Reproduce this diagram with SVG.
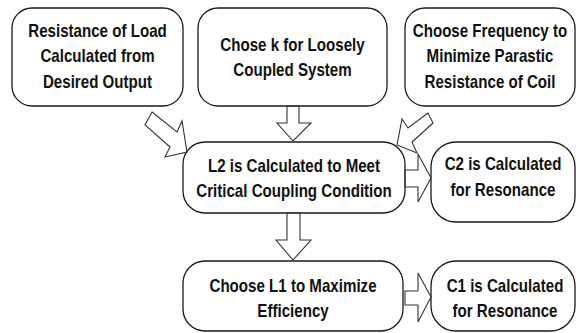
<svg xmlns="http://www.w3.org/2000/svg" width="576" height="333" viewBox="0 0 576 333">
<style>
.box{fill:#fff;stroke:#1a1a1a;stroke-width:1.3}
.arr{fill:none;stroke:#333;stroke-width:1.1;stroke-linejoin:miter}
.t{font-family:"Liberation Sans",Arial,sans-serif;font-weight:bold;font-size:18px;fill:#111;text-anchor:middle}
</style>
<rect width="576" height="333" fill="#fff"/>
<g id="n1"><rect class="box" x="12" y="8" width="171" height="98" rx="20"/>
<g transform="translate(97.5,0) scale(0.84,1)"><text class="t" x="0" y="37">Resistance of Load</text><text class="t" x="0" y="62.5">Calculated from</text><text class="t" x="0" y="88">Desired Output</text></g></g>
<g id="n2"><rect class="box" x="198" y="8" width="189" height="98" rx="20"/>
<g transform="translate(292.5,0) scale(0.84,1)"><text class="t" x="0" y="51">Chose k for Loosely</text><text class="t" x="0" y="76.5">Coupled System</text></g></g>
<g id="n3"><rect class="box" x="405" y="8" width="170" height="98" rx="20"/>
<g transform="translate(490,0) scale(0.84,1)"><text class="t" x="0" y="37">Choose Frequency to</text><text class="t" x="0" y="62.5">Minimize Parastic</text><text class="t" x="0" y="88">Resistance of Coil</text></g></g>
<g id="n4"><rect class="box" x="183" y="142" width="222" height="71" rx="22"/>
<g transform="translate(294,0) scale(0.84,1)"><text class="t" x="0" y="172.5">L2 is Calculated to Meet</text><text class="t" x="0" y="197">Critical Coupling Condition</text></g></g>
<g id="n5"><rect class="box" x="431" y="142" width="144" height="80" rx="25"/>
<g transform="translate(503,0) scale(0.84,1)"><text class="t" x="0" y="170.5">C2 is Calculated</text><text class="t" x="0" y="196">for Resonance</text></g></g>
<g id="n6"><rect class="box" x="183" y="261" width="220" height="70" rx="22"/>
<g transform="translate(293,0) scale(0.84,1)"><text class="t" x="0" y="292">Choose L1 to Maximize</text><text class="t" x="0" y="317">Efficiency</text></g></g>
<g id="n7"><rect class="box" x="431" y="261" width="144" height="70" rx="25"/>
<g transform="translate(505,0) scale(0.84,1)"><text class="t" x="0" y="292">C1 is Calculated</text><text class="t" x="0" y="317">for Resonance</text></g></g>
<g id="connectors">
<polygon class="arr" points="287,106 287,123 277,123 293,141 311,123 299,123 299,106"/>
<polygon class="arr" points="287,213 287,240 276,240 293,260 311,240 300,240 300,213"/>
<polygon class="arr" points="405,170 418,170 418,154 431,178 418,202 418,187 405,187"/>
<polygon class="arr" points="405,291 418,291 418,273 431,297 418,322 418,305 405,305"/>
<polygon class="arr" points="152,112 177,132 182,121 187,152 165,157 170,147 145,125"/>
<polygon class="arr" points="428,113 408,128 402,119 397,145 417,153 412,142 433,123"/>
</g>
</svg>
